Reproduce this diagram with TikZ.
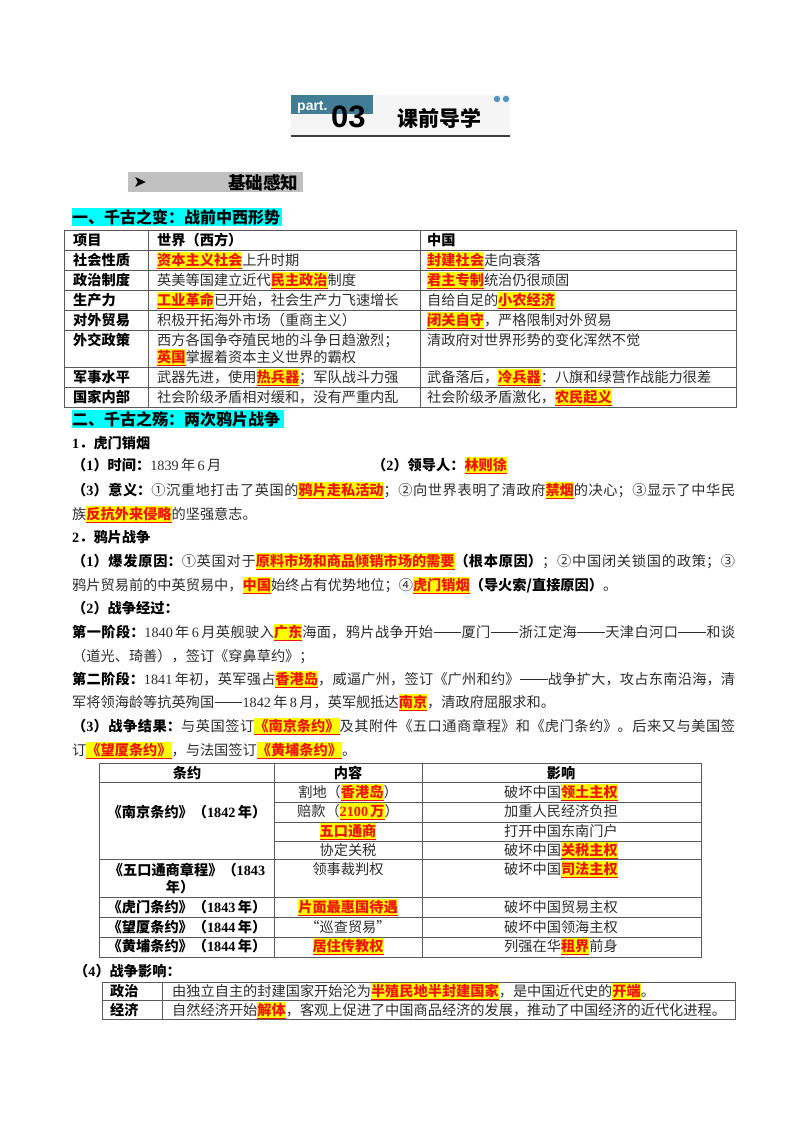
\documentclass[tikz,border=0pt]{standalone}
\usepackage{fontspec}
\setmainfont{Noto Sans CJK SC}
\newfontfamily\tms{Liberation Serif}
\newfontfamily\hsans{Liberation Sans}
\newfontfamily\dejavu{DejaVu Sans}
\XeTeXlinebreaklocale "zh"
\XeTeXlinebreakskip=0pt plus 1pt minus 0.2pt
\definecolor{hly}{RGB}{255,255,0}
\definecolor{hlr}{RGB}{240,20,10}
\definecolor{cyanc}{RGB}{0,255,255}
\definecolor{grayc}{RGB}{192,192,192}
\definecolor{tealc}{RGB}{66,125,150}
\definecolor{hdrbg}{RGB}{245,245,245}
\definecolor{hdrline}{RGB}{60,60,60}
\definecolor{bodyc}{RGB}{45,45,45}
\definecolor{tabc}{RGB}{90,90,90}
\definecolor{dotc}{RGB}{80,150,190}
\newcommand\bodyfont{\fontsize{14.2}{17}\selectfont}
\newcommand\hl[1]{{\setlength{\fboxsep}{0pt}\colorbox{hly}{\rule[-0.2em]{0pt}{1.1em}\color{hlr}\bfseries\underline{#1}}}}
\newcommand\B[1]{{\bfseries\color{black}#1}}
\newcommand\N[1]{{\tms #1}}
\newcommand\dd{\hbox to 2em{\hss\rule[0.33em]{1.94em}{0.055em}\hss}}
\newcommand\jl[2]{\parbox[t]{#1}{\parindent=0pt\parfillskip=0pt\leavevmode\relax #2}}
\tikzset{
  tl/.style={draw=tabc, line width=0.8pt},
  lt/.style={anchor=base west, inner sep=0pt, text=bodyc, font=\bodyfont},
  ct/.style={anchor=base, inner sep=0pt, text=bodyc, font=\bodyfont},
  headtxt/.style={anchor=base west, inner sep=0pt, text=black, font=\bfseries\fontsize{16}{17}\selectfont},
}
\begin{document}
\begin{tikzpicture}[x=1pt,y=-1pt]
\useasboundingbox (0,0) rectangle (800,1132);
\fill[white] (0,0) rectangle (800,1132);

% ---------- header ----------
\fill[hdrbg] (291,95) rectangle (510,135);
\fill[tealc] (291,95) rectangle (373,114);
\node[anchor=base west, inner sep=0pt, text=white, font=\hsans\bfseries\fontsize{14}{14}\selectfont] (part) at (297,110) {part.};
\node[anchor=base west, inner sep=0pt, text=black, font=\hsans\bfseries\fontsize{31}{31}\selectfont] (num) at (331,127) {03};
\node[anchor=base west, inner sep=0pt, text=black, font=\bfseries\fontsize{21}{21}\selectfont] (ttl) at (397,126) {课前导学};
\draw[line width=2pt, draw=hdrline] (291,136) -- (510,136);
\fill[dotc] (497,99) circle (3.2);
\fill[dotc] (506,99) circle (3.2);

% ---------- 基础感知 ----------
\fill[grayc] (128,172) rectangle (303,192);
\node[inner sep=0pt, font=\dejavu\fontsize{16}{16}\selectfont] (arr) at (140,182) {➤};
\node[anchor=base west, inner sep=0pt, font=\bfseries\fontsize{17.5}{18}\selectfont] (jc) at (228,189) {基础感知};

% ---------- section 1 ----------
\fill[cyanc] (72,208) rectangle (282,226);
\node[headtxt] (h1) at (72,223) {一、千古之变：战前中西形势};

\draw[tl] (64,230) rectangle (736,407);
\foreach \yy in {250,270,290,310,330,367,387} \draw[tl] (64,\yy) -- (736,\yy);
\draw[tl] (148,230) -- (148,407);
\draw[tl] (420,230) -- (420,407);

\node[lt] (a0) at (73,245) {\B{项目}};
\node[lt] (b0) at (157,245) {\B{世界（西方）}};
\node[lt] (c0) at (427,245) {\B{中国}};
\node[lt] (a1) at (73,265) {\B{社会性质}};
\node[lt] (b1) at (157,265) {\hl{资本主义社会}上升时期};
\node[lt] (c1) at (427,265) {\hl{封建社会}走向衰落};
\node[lt] (a2) at (73,285) {\B{政治制度}};
\node[lt] (b2) at (157,285) {英美等国建立近代\hl{民主政治}制度};
\node[lt] (c2) at (427,285) {\hl{君主专制}统治仍很顽固};
\node[lt] (a3) at (73,305) {\B{生产力}};
\node[lt] (b3) at (157,305) {\hl{工业革命}已开始，社会生产力飞速增长};
\node[lt] (c3) at (427,305) {自给自足的\hl{小农经济}};
\node[lt] (a4) at (73,325) {\B{对外贸易}};
\node[lt] (b4) at (157,325) {积极开拓海外市场（重商主义）};
\node[lt] (c4) at (427,325) {\hl{闭关自守}，严格限制对外贸易};
\node[lt] (a5) at (73,345) {\B{外交政策}};
\node[lt] (b5) at (157,345) {西方各国争夺殖民地的斗争日趋激烈；};
\node[lt] (b5b) at (157,362) {\hl{英国}掌握着资本主义世界的霸权};
\node[lt] (c5) at (427,345) {清政府对世界形势的变化浑然不觉};
\node[lt] (a6) at (73,382) {\B{军事水平}};
\node[lt] (b6) at (157,382) {武器先进，使用\hl{热兵器}；军队战斗力强};
\node[lt] (c6) at (427,382) {武备落后，\hl{冷兵器}：八旗和绿营作战能力很差};
\node[lt] (a7) at (73,402) {\B{国家内部}};
\node[lt] (b7) at (157,402) {社会阶级矛盾相对缓和，没有严重内乱};
\node[lt] (c7) at (427,402) {社会阶级矛盾激化，\hl{农民起义}};

% ---------- section 2 ----------
\fill[cyanc] (72,410) rectangle (284,428);
\node[headtxt] (h2) at (72,425) {二、千古之殇：两次鸦片战争};

\node[lt] (p1) at (72,448) {\B{\N{1}．虎门销烟}};
\node[lt] (p2) at (72,470) {\B{（\N{1}）时间：}\N{1839}\,年\,\N{6}\,月};
\node[lt] (p2b) at (372,470) {\B{（\N{2}）领导人：}\hl{林则徐}};
\node[lt] (p3) at (72,495) {\jl{663pt}{\B{（\N{3}）意义：}①沉重地打击了英国的\hl{鸦片走私活动}；②向世界表明了清政府\hl{禁烟}的决心；③显示了中华民}};
\node[lt] (p4) at (72,519) {族\hl{反抗外来侵略}的坚强意志。};
\node[lt] (p5) at (72,542) {\B{\N{2}．鸦片战争}};
\node[lt] (p6) at (72,566) {\jl{663pt}{\B{（\N{1}）爆发原因：}①英国对于\hl{原料市场和商品倾销市场的需要}\B{（根本原因）}；②中国闭关锁国的政策；③}};
\node[lt] (p7) at (72,590) {鸦片贸易前的中英贸易中，\hl{中国}始终占有优势地位；④\hl{虎门销烟}\B{（导火索/直接原因）}。};
\node[lt] (p8) at (72,613) {\B{（\N{2}）战争经过：}};
\node[lt] (p9) at (72,637) {\jl{663pt}{\B{第一阶段：}\N{1840}\,年\,\N{6}\,月英舰驶入\hl{广东}海面，鸦片战争开始\dd 厦门\dd 浙江定海\dd 天津白河口\dd 和谈}};
\node[lt] (p10) at (72,661) {（道光、琦善），签订《穿鼻草约》；};
\node[lt] (p11) at (72,684) {\jl{663pt}{\B{第二阶段：}\N{1841}\,年初，英军强占\hl{香港岛}，威逼广州，签订《广州和约》\dd 战争扩大，攻占东南沿海，清}};
\node[lt] (p12) at (72,707) {军将领海龄等抗英殉国\dd\N{1842}\,年\,\N{8}\,月，英军舰抵达\hl{南京}，清政府屈服求和。};
\node[lt] (p13) at (72,731) {\jl{663pt}{\B{（\N{3}）战争结果：}与英国签订\hl{《南京条约》}及其附件《五口通商章程》和《虎门条约》。后来又与美国签}};
\node[lt] (p14) at (72,755) {订\hl{《望厦条约》}，与法国签订\hl{《黄埔条约》}。};

% ---------- table 2 ----------
\draw[tl] (99,763) rectangle (701,957);
\foreach \yy in {782,859,897,917,937} \draw[tl] (99,\yy) -- (701,\yy);
\foreach \yy in {802,822,841} \draw[tl] (274,\yy) -- (701,\yy);
\draw[tl] (274,763) -- (274,957);
\draw[tl] (422,763) -- (422,957);

\node[ct] (t0a) at (187,778) {\B{条约}};
\node[ct] (t0b) at (348,778) {\B{内容}};
\node[ct] (t0c) at (561,778) {\B{影响}};
\node[ct] (t1a) at (187,817) {\B{《南京条约》（\N{1842}\,年）}};
\node[ct] (t1b) at (348,797) {割地（\hl{香港岛}）};
\node[ct] (t1c) at (561,797) {破坏中国\hl{领土主权}};
\node[ct] (t2b) at (348,816) {赔款（\hl{\N{2100}\,万}）};
\node[ct] (t2c) at (561,816) {加重人民经济负担};
\node[ct] (t3b) at (348,836) {\hl{五口通商}};
\node[ct] (t3c) at (561,836) {打开中国东南门户};
\node[ct] (t4b) at (348,855) {协定关税};
\node[ct] (t4c) at (561,855) {破坏中国\hl{关税主权}};
\node[ct] (t5a) at (187,875) {\B{《五口通商章程》（\N{1843}}};
\node[ct] (t5a2) at (180,892) {\B{年）}};
\node[ct] (t5b) at (348,874) {领事裁判权};
\node[ct] (t5c) at (561,874) {破坏中国\hl{司法主权}};
\node[ct] (t6a) at (187,912) {\B{《虎门条约》（\N{1843}\,年）}};
\node[ct] (t6b) at (348,912) {\hl{片面最惠国待遇}};
\node[ct] (t6c) at (561,912) {破坏中国贸易主权};
\node[ct] (t7a) at (187,932) {\B{《望厦条约》（\N{1844}\,年）}};
\node[ct] (t7b) at (348,932) {“巡查贸易”};
\node[ct] (t7c) at (561,932) {破坏中国领海主权};
\node[ct] (t8a) at (187,951) {\B{《黄埔条约》（\N{1844}\,年）}};
\node[ct] (t8b) at (348,951) {\hl{居住传教权}};
\node[ct] (t8c) at (561,951) {列强在华\hl{租界}前身};

% ---------- (4) ----------
\node[lt] (p15) at (74,976) {\B{（\N{4}）战争影响：}};
\draw[tl] (102,982) rectangle (735,1019);
\draw[tl] (102,1000) -- (735,1000);
\draw[tl] (162,982) -- (162,1019);
\node[lt] (e1a) at (110,996) {\B{政治}};
\node[lt] (e1b) at (172,996) {由独立自主的封建国家开始沦为\hl{半殖民地半封建国家}，是中国近代史的\hl{开端}。};
\node[lt] (e2a) at (110,1015) {\B{经济}};
\node[lt] (e2b) at (172,1015) {自然经济开始\hl{解体}，客观上促进了中国商品经济的发展，推动了中国经济的近代化进程。};
\end{tikzpicture}
\end{document}
